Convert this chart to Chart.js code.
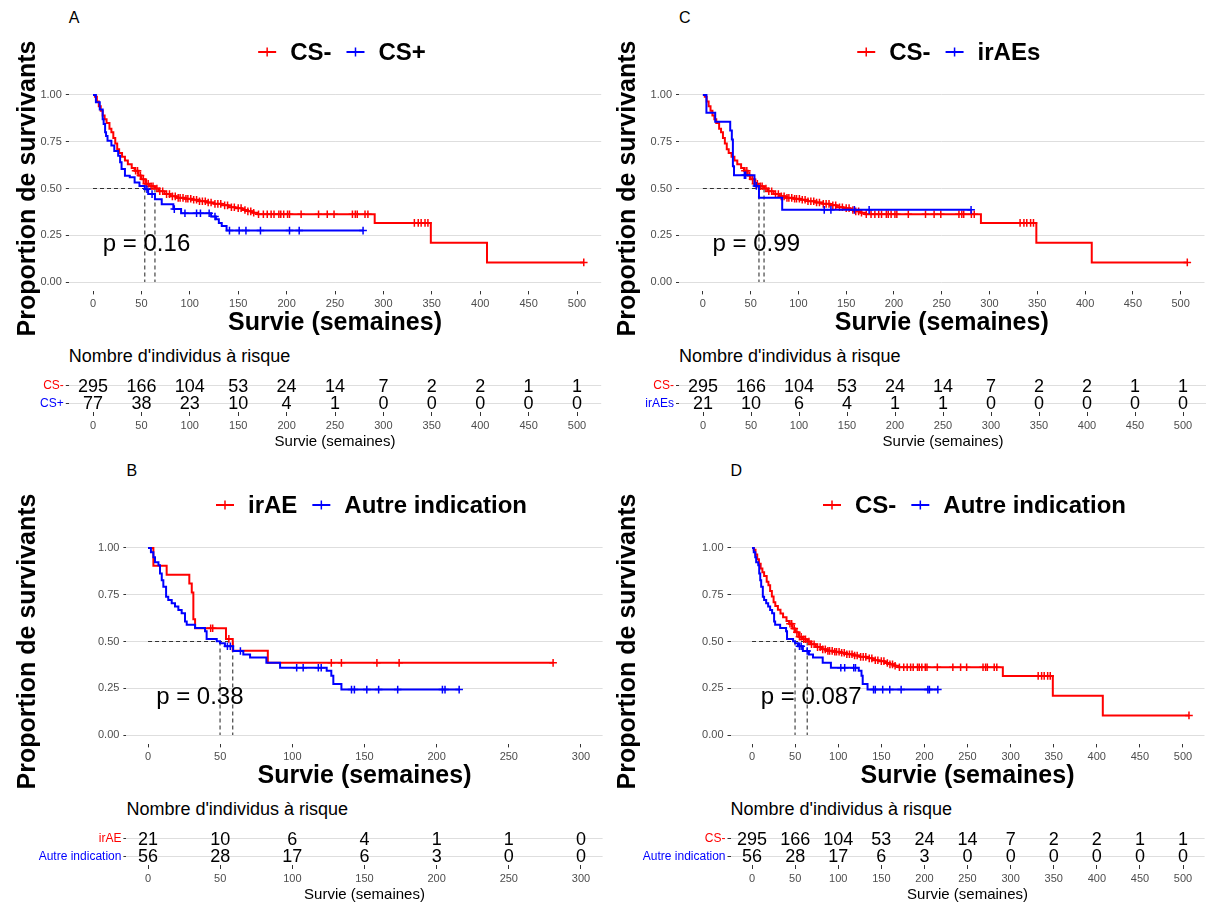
<!DOCTYPE html>
<html>
<head>
<meta charset="utf-8">
<script src="https://cdn.jsdelivr.net/npm/chart.js@4.4.0/dist/chart.umd.min.js"></script>
<style>
  body { margin: 0; background: #fff; }
  #page { position: relative; width: 1206px; height: 906px; overflow: hidden; background: #fff; }
  #page canvas { position: absolute; }
  .txt { position: absolute; white-space: nowrap; color: #000; font-family: "Liberation Sans", Arial, sans-serif; }
</style>
</head>
<body>
<div id="page"></div>
<script>
// ---- survival curves (time in weeks, survival proportion) ----
const csNegTime = [0, 2, 4, 6, 8, 10, 12, 14, 17, 19, 21, 23, 25, 27, 30, 33, 36, 40, 43, 47, 50, 54, 58, 64, 68, 74, 80, 86, 95, 102, 110, 118, 125, 133, 140, 147, 154, 160, 165, 170, 291, 349, 407, 507];
const csNegSurv = [1, 0.99, 0.965, 0.94, 0.915, 0.89, 0.87, 0.85, 0.82, 0.80, 0.77, 0.74, 0.71, 0.69, 0.67, 0.65, 0.63, 0.61, 0.595, 0.57, 0.55, 0.525, 0.512, 0.50, 0.485, 0.47, 0.458, 0.45, 0.445, 0.44, 0.432, 0.425, 0.418, 0.41, 0.40, 0.395, 0.385, 0.378, 0.37, 0.362, 0.316, 0.21, 0.105, 0.105];
const csNegCens = [44, 46, 49, 52, 55, 57, 60, 62, 66, 69, 72, 76, 79, 82, 85, 88, 90, 93, 96, 98, 101, 104, 107, 110, 113, 116, 119, 122, 126, 129, 132, 136, 139, 143, 146, 150, 153, 157, 160, 163, 166, 171, 176, 180, 184, 187, 192, 194, 197, 201, 203, 215, 233, 242, 249, 268, 271, 273, 281, 284, 332, 336, 339, 343, 346, 507];

const csPosTime = [0, 3, 7, 10, 11, 12.5, 13.5, 15, 19, 22, 26, 28, 29.5, 33, 38, 43, 48, 53.5, 57, 64, 71, 83, 91, 122, 127, 130, 133, 138, 279];
const csPosSurv = [1, 0.961, 0.922, 0.87, 0.845, 0.80, 0.78, 0.755, 0.73, 0.70, 0.675, 0.64, 0.604, 0.568, 0.56, 0.532, 0.514, 0.496, 0.47, 0.443, 0.416, 0.39, 0.368, 0.35, 0.336, 0.315, 0.30, 0.275, 0.275];
const csPosCens = [55.7, 61, 84, 95, 107, 111, 120, 126, 141, 151, 158, 173, 203, 213, 279];

const iraeTime = [0, 3.7, 12.9, 28.6, 30.3, 31.4, 32.6, 54, 58.7, 83, 280.7];
const iraeSurv = [1, 0.905, 0.857, 0.810, 0.762, 0.619, 0.571, 0.514, 0.450, 0.386, 0.386];
const iraeCens = [43.4, 44.8, 56, 127, 134, 158.6, 174, 280.7];

const autreTime = [0, 2, 3.7, 4.8, 7.2, 8.3, 9.5, 10.6, 12.5, 14, 16.4, 18.7, 21, 23.3, 25.6, 26.8, 32.6, 39.5, 40.6, 47.6, 49.9, 53.3, 59, 66, 70.7, 82, 91.5, 123.8, 127, 128.4, 134, 215.6];
const autreSurv = [1, 0.977, 0.95, 0.924, 0.907, 0.863, 0.827, 0.792, 0.739, 0.722, 0.704, 0.687, 0.669, 0.651, 0.607, 0.59, 0.572, 0.555, 0.514, 0.502, 0.49, 0.475, 0.449, 0.43, 0.414, 0.387, 0.36, 0.343, 0.317, 0.273, 0.243, 0.243];
const autreCens = [55, 57, 64, 103, 107.5, 118, 120, 141, 143, 151.6, 159.8, 173, 204, 205.8, 215.6];

// ---- numbers at risk ----
const breaks500 = [0, 50, 100, 150, 200, 250, 300, 350, 400, 450, 500];
const breaks300 = [0, 50, 100, 150, 200, 250, 300];
const riskCsNeg = [295, 166, 104, 53, 24, 14, 7, 2, 2, 1, 1];
const riskCsPos = [77, 38, 23, 10, 4, 1, 0, 0, 0, 0, 0];
const riskIraes = [21, 10, 6, 4, 1, 1, 0, 0, 0, 0, 0];
const riskIraeB = [21, 10, 6, 4, 1, 1, 0];
const riskAutreB = [56, 28, 17, 6, 3, 0, 0];
const riskAutreD = [56, 28, 17, 6, 3, 0, 0, 0, 0, 0, 0];

const yTicks = [0, 0.25, 0.5, 0.75, 1];
const pValues = { A: '0.16', B: '0.38', C: '0.99', D: '0.087' };

const RED = '#FF0000', BLUE = '#0000FF';
const FONT = '"Liberation Sans", Arial, sans-serif';
Chart.defaults.font.family = FONT;

const curves = {
  csNeg: { t: csNegTime, s: csNegSurv, c: csNegCens },
  csPos: { t: csPosTime, s: csPosSurv, c: csPosCens },
  irae: { t: iraeTime, s: iraeSurv, c: iraeCens },
  autre: { t: autreTime, s: autreSurv, c: autreCens }
};

function survAt(cv, time) {
  let s = 1;
  for (let i = 0; i < cv.t.length; i++) { if (cv.t[i] <= time) s = cv.s[i]; }
  return s;
}
function medianOf(cv) {
  for (let i = 0; i < cv.t.length; i++) { if (cv.s[i] <= 0.5) return cv.t[i]; }
  return null;
}

const panels = [
  { key: 'A', left: 0, top: 0, plotL: 68.8, plotR: 601.2, xmin: -25, xmax: 525, breaks: breaks500,
    groups: [{ name: 'CS-', color: RED, cv: curves.csNeg, risk: riskCsNeg }, { name: 'CS+', color: BLUE, cv: curves.csPos, risk: riskCsPos }] },
  { key: 'C', left: 600, top: 0, plotL: 679, plotR: 1207, xmin: -25, xmax: 525, breaks: breaks500,
    groups: [{ name: 'CS-', color: RED, cv: curves.csNeg, risk: riskCsNeg }, { name: 'irAEs', color: BLUE, cv: curves.irae, risk: riskIraes }] },
  { key: 'B', left: 0, top: 453, plotL: 126.4, plotR: 602.6, xmin: -15, xmax: 315, breaks: breaks300,
    groups: [{ name: 'irAE', color: RED, cv: curves.irae, risk: riskIraeB }, { name: 'Autre indication', color: BLUE, cv: curves.autre, risk: riskAutreB }] },
  { key: 'D', left: 600, top: 453, plotL: 730.5, plotR: 1204.6, xmin: -25, xmax: 525, breaks: breaks500,
    groups: [{ name: 'CS-', color: RED, cv: curves.csNeg, risk: riskCsNeg }, { name: 'Autre indication', color: BLUE, cv: curves.autre, risk: riskAutreD }] }
];

const page = document.getElementById('page');
function addCanvas(left, top, w, h) {
  const c = document.createElement('canvas');
  c.width = w; c.height = h;
  c.style.left = left + 'px'; c.style.top = top + 'px';
  c.style.width = w + 'px'; c.style.height = h + 'px';
  page.appendChild(c);
  return c;
}
function addText(text, x, yc, size) {
  const d = document.createElement('div');
  d.className = 'txt';
  d.textContent = text;
  d.style.left = x + 'px';
  d.style.top = (yc - size * 0.6) + 'px';
  d.style.fontSize = size + 'px';
  d.style.lineHeight = (size * 1.2) + 'px';
  page.appendChild(d);
}

// p-value and legend drawn on the survival chart
const kmExtras = {
  id: 'kmExtras',
  afterDatasetsDraw(chart, args, opts) {
    const ctx = chart.ctx, xs = chart.scales.x, ys = chart.scales.y;
    ctx.save();
    ctx.font = '24px ' + FONT;
    ctx.fillStyle = '#000';
    ctx.textAlign = 'left';
    ctx.textBaseline = 'middle';
    ctx.fillText('p = ' + opts.p, xs.getPixelForValue(opts.px), ys.getPixelForValue(0.2));

    const items = chart.data.datasets.filter(d => d.isCurve);
    ctx.font = 'bold 24px ' + FONT;
    const symW = 18, gap = 14, between = 15;
    let total = 0;
    items.forEach((d, i) => { total += symW + gap + ctx.measureText(d.label).width + (i ? between : 0); });
    let x = (chart.chartArea.left + chart.chartArea.right) / 2 + 7 - total / 2;
    const cy = opts.legendY;
    items.forEach((d, i) => {
      if (i) x += between;
      ctx.strokeStyle = d.borderColor;
      ctx.lineWidth = 2;
      ctx.beginPath(); ctx.moveTo(x, cy); ctx.lineTo(x + symW, cy); ctx.stroke();
      ctx.lineWidth = 1.5;
      ctx.beginPath(); ctx.moveTo(x + symW / 2, cy - 4.5); ctx.lineTo(x + symW / 2, cy + 4.5); ctx.stroke();
      x += symW + gap;
      ctx.fillStyle = '#000';
      ctx.fillText(d.label, x, cy + 1);
      x += ctx.measureText(d.label).width;
    });
    ctx.restore();
  }
};

// numbers at risk written at each break
const riskText = {
  id: 'riskText',
  afterDatasetsDraw(chart) {
    const ctx = chart.ctx;
    ctx.save();
    ctx.font = '18px ' + FONT;
    ctx.fillStyle = '#000';
    ctx.textAlign = 'center';
    ctx.textBaseline = 'middle';
    chart.data.datasets.forEach((d, i) => {
      chart.getDatasetMeta(i).data.forEach((el, j) => ctx.fillText(String(d.risk[j]), el.x, el.y + 1));
    });
    ctx.restore();
  }
};

panels.forEach(p => {
  const W = 610;
  const plotLRel = p.plotL - p.left;
  const padR = W - (p.plotR - p.left);
  const maxTime = Math.max(...p.groups.map(g => Math.max(...g.cv.t)));

  addText(p.key, p.plotL, p.top + 18, 16);
  addText("Nombre d'individus à risque", p.plotL, p.top + 357, 18);

  // ---- survival chart ----
  const datasets = [];
  p.groups.forEach((g, i) => {
    datasets.push({
      type: 'line', label: g.name, isCurve: true,
      data: g.cv.t.map((t, k) => ({ x: t, y: g.cv.s[k] })),
      borderColor: g.color, backgroundColor: g.color, borderWidth: 2,
      stepped: true, pointRadius: 0, fill: false, order: 5 - 2 * i
    });
    datasets.push({
      type: 'scatter', label: g.name + ' censure',
      data: g.cv.c.map(t => ({ x: t, y: survAt(g.cv, t) })),
      pointStyle: 'cross', pointRadius: 3.8, borderColor: g.color, borderWidth: 1.5,
      order: 4 - 2 * i
    });
  });
  const meds = p.groups.map(g => medianOf(g.cv));
  const dashStyle = { type: 'line', borderColor: '#333', borderWidth: 1.1, borderDash: [4, 3], pointRadius: 0, fill: false, order: 10 };
  datasets.push(Object.assign({ label: 'median h', data: [{ x: 0, y: 0.5 }, { x: Math.max(...meds), y: 0.5 }] }, dashStyle));
  meds.forEach(m => datasets.push(Object.assign({ label: 'median v', data: [{ x: m, y: 0.5 }, { x: m, y: 0 }] }, dashStyle)));

  const kmH = 340;
  new Chart(addCanvas(p.left, p.top, W, kmH), {
    type: 'line',
    data: { datasets },
    options: {
      responsive: false, animation: false, devicePixelRatio: 1,
      layout: { padding: { top: 85.6, left: 0, right: padR, bottom: 2 } },
      plugins: {
        legend: { display: false }, tooltip: { enabled: false },
        kmExtras: { p: pValues[p.key], px: maxTime / 50, legendY: 52 }
      },
      scales: {
        x: {
          type: 'linear', min: p.xmin, max: p.xmax,
          afterBuildTicks: s => { s.ticks = p.breaks.map(v => ({ value: v })); },
          afterFit: s => { s.height = 46.6; },
          grid: { drawOnChartArea: false, tickLength: 3, tickColor: '#333' },
          border: { display: false },
          ticks: { font: { size: 11 }, color: '#4d4d4d', padding: 3, maxRotation: 0, autoSkip: false },
          title: { display: true, text: 'Survie (semaines)', color: '#000', font: { size: 25, weight: 'bold' }, padding: 0 }
        },
        y: {
          type: 'linear', min: -0.05, max: 1.05,
          afterBuildTicks: s => { s.ticks = yTicks.map(v => ({ value: v })); },
          afterFit: s => { s.width = plotLRel; },
          grid: { color: '#dedede', lineWidth: 1, tickLength: 3, tickColor: '#333' },
          border: { display: false },
          ticks: { font: { size: 11 }, color: '#4d4d4d', padding: 4, callback: v => Number(v).toFixed(2) },
          title: { display: true, text: 'Proportion de survivants', color: '#000', font: { size: 25, weight: 'bold' }, padding: { top: 13, bottom: 0 } }
        }
      }
    },
    plugins: [kmExtras]
  });

  // ---- risk table ----
  const names = p.groups.map(g => g.name);
  const colors = p.groups.map(g => g.color);
  new Chart(addCanvas(p.left, p.top + 340, W, 113), {
    type: 'scatter',
    data: {
      datasets: p.groups.map(g => ({
        label: g.name, risk: g.risk,
        data: p.breaks.map(b => ({ x: b, y: g.name })),
        pointRadius: 0
      }))
    },
    options: {
      responsive: false, animation: false, devicePixelRatio: 1,
      layout: { padding: { top: 37, left: 0, right: padR, bottom: 2.3 } },
      plugins: { legend: { display: false }, tooltip: { enabled: false } },
      scales: {
        x: {
          type: 'linear', min: p.xmin, max: p.xmax,
          afterBuildTicks: s => { s.ticks = p.breaks.map(v => ({ value: v })); },
          afterFit: s => { s.height = 38.7; },
          grid: { drawOnChartArea: false, tickLength: 4, tickColor: '#333' },
          border: { display: false },
          ticks: { font: { size: 11 }, color: '#4d4d4d', padding: 3, maxRotation: 0, autoSkip: false },
          title: { display: true, text: 'Survie (semaines)', color: '#000', font: { size: 15 }, padding: 0 }
        },
        y: {
          type: 'category', labels: names, offset: true,
          afterFit: s => { s.width = plotLRel; },
          grid: { color: '#dedede', offset: false, tickLength: 3, tickColor: '#333' },
          border: { display: false },
          ticks: { font: { size: 12 }, color: c => colors[c.index], padding: 2, autoSkip: false }
        }
      }
    },
    plugins: [riskText]
  });
});
</script>
</body>
</html>
